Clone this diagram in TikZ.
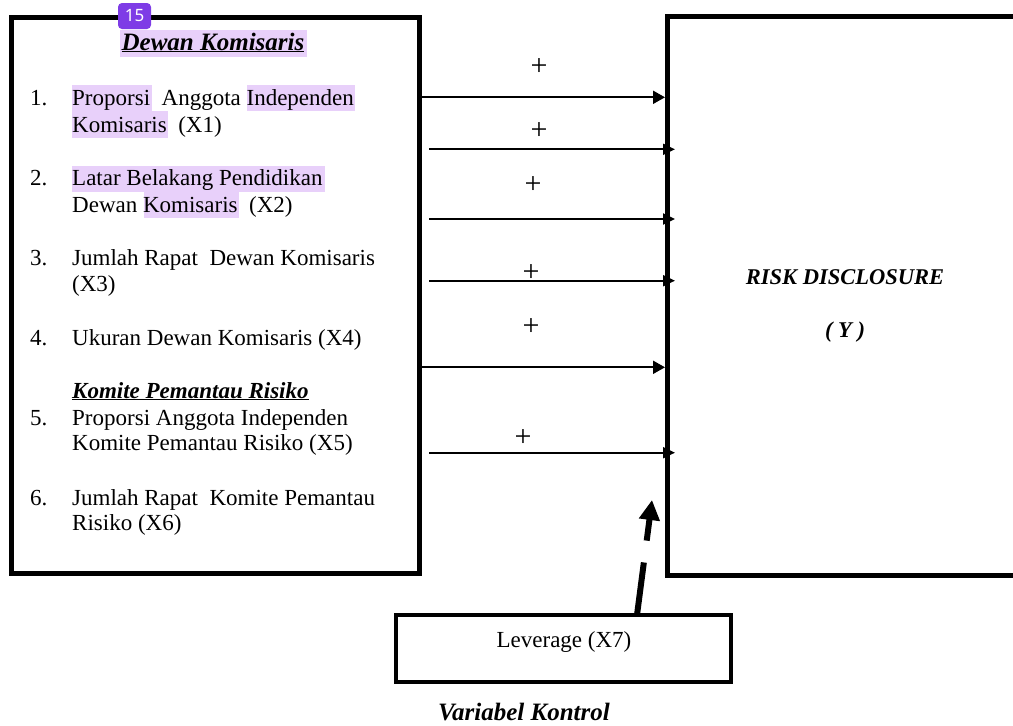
\documentclass[tikz,border=0pt]{standalone}
\usepackage{fontspec}
\setmainfont{Liberation Serif}
\newfontfamily\badgefont{Noto Sans}
\usetikzlibrary{arrows.meta}
\definecolor{hl}{RGB}{232,208,250}
\definecolor{badge}{RGB}{126,60,230}
\begin{document}
\begin{tikzpicture}[x=1pt,y=-1pt,
  body/.style={inner sep=0, font=\fontsize{23}{28}\selectfont},
  lft/.style={body, anchor=base west},
  hd/.style={inner sep=0, anchor=base, font=\fontsize{25}{30}\selectfont\bfseries\itshape},
  frame/.style={draw, line width=5pt, inner sep=0, outer sep=0},
  conn/.style={line width=2pt, -{Triangle[length=12pt,width=11pt]}},
  plus/.style={inner sep=0, font=\fontsize{30}{30}\selectfont}]
\useasboundingbox (0,0) rectangle (1013,726);
\clip (0,0) rectangle (1013,726);

% boxes
\node[frame, minimum width=408pt, minimum height=556pt] (L) at (215,295) {};
\node[frame, minimum width=363pt, minimum height=559pt] (R) at (848.5,295.5) {};
\node[frame, line width=4pt, minimum width=335pt, minimum height=67pt] (L7) at (563.5,648.5) {};

% highlights
\fill[hl] (120,30) rectangle (307,57);
\fill[hl] (72,85) rectangle (152,111);
\fill[hl] (247,85) rectangle (355,111);
\fill[hl] (72,111) rectangle (168,138);
\fill[hl] (72,166) rectangle (325,192);
\fill[hl] (144,192) rectangle (239,218);

% badge
\node[fill=badge, rounded corners=4pt, text=white, minimum width=33pt, minimum height=26pt, inner sep=0, font=\badgefont\fontsize{17}{17}\selectfont] (bdg) at (134.5,16) {15};

% left texts
\node[hd] (t0) at (213,50) {\underline{Dewan Komisaris}};
\node[lft] (n1) at (30,105) {1.};
\node[lft] (t1a) at (72,105) {Proporsi\ \ Anggota Independen};
\node[lft] (t1b) at (72,132) {Komisaris\ \ (X1)};
\node[lft] (n2) at (30,185) {2.};
\node[lft] (t2a) at (72,185) {Latar Belakang Pendidikan};
\node[lft] (t2b) at (72,212) {Dewan Komisaris\ \ (X2)};
\node[lft] (n3) at (30,265) {3.};
\node[lft] (t3a) at (72,265) {Jumlah Rapat\ \ Dewan Komisaris};
\node[lft] (t3b) at (72,291.5) {(X3)};
\node[lft] (n4) at (30,345) {4.};
\node[lft] (t4) at (72,345) {Ukuran Dewan Komisaris (X4)};
\node[lft, font=\fontsize{23}{28}\selectfont\bfseries\itshape] (tk) at (72,398) {\underline{Komite Pemantau Risiko}};
\node[lft] (n5) at (30,425) {5.};
\node[lft] (t5a) at (72,425) {Proporsi Anggota Independen};
\node[lft] (t5b) at (72,450.5) {Komite Pemantau Risiko (X5)};
\node[lft] (n6) at (30,505) {6.};
\node[lft] (t6a) at (72,505) {Jumlah Rapat\ \ Komite Pemantau};
\node[lft] (t6b) at (72,530) {Risiko (X6)};

% right texts
\node[inner sep=0, anchor=base, font=\fontsize{22.5}{26}\selectfont\bfseries\itshape] (ry) at (845,284) {RISK DISCLOSURE};
\node[inner sep=0, anchor=base, font=\fontsize{22.5}{26}\selectfont\bfseries\itshape] (ry2) at (845,337) {( Y )};

% leverage
\node[body, anchor=base] (lev) at (564,647) {Leverage (X7)};
\node[hd] (vk) at (524,720) {Variabel Kontrol};

% arrows
\coordinate (y1) at (0,97.3);
\coordinate (y2) at (0,149.3);
\coordinate (y3) at (0,219);
\coordinate (y4) at (0,280.7);
\coordinate (y5) at (0,367.3);
\coordinate (y6) at (0,452.7);
\draw[conn, -{Triangle[length=12pt,width=13pt]}] (L.east |- y1) -- ([xshift=-2pt]R.west |- y1);
\draw[conn] ([xshift=10pt]L.east |- y2) -- ([xshift=8pt]R.west |- y2);
\draw[conn] ([xshift=10pt]L.east |- y3) -- ([xshift=8pt]R.west |- y3);
\draw[conn] ([xshift=10pt]L.east |- y4) -- ([xshift=8pt]R.west |- y4);
\draw[conn, -{Triangle[length=12pt,width=13pt]}] (L.east |- y5) -- ([xshift=-2pt]R.west |- y5);
\draw[conn] ([xshift=10pt]L.east |- y6) -- ([xshift=8pt]R.west |- y6);

% plus signs
\node[plus] (p1) at (539,66.7) {+};
\node[plus] (p2) at (539,130.7) {+};
\node[plus] (p3) at (533,185) {+};
\node[plus] (p4) at (531,273) {+};
\node[plus] (p5) at (531,327) {+};
\node[plus] (p6) at (523,437.7) {+};

% dashed control arrow
\coordinate (dx) at (637,0);
\coordinate (tipY) at (652,500);
\draw[line width=6pt, dash pattern=on 53pt off 22pt, -{Triangle[length=20pt,width=20pt]}] (L7.north -| dx) -- (tipY);
\end{tikzpicture}
\end{document}
